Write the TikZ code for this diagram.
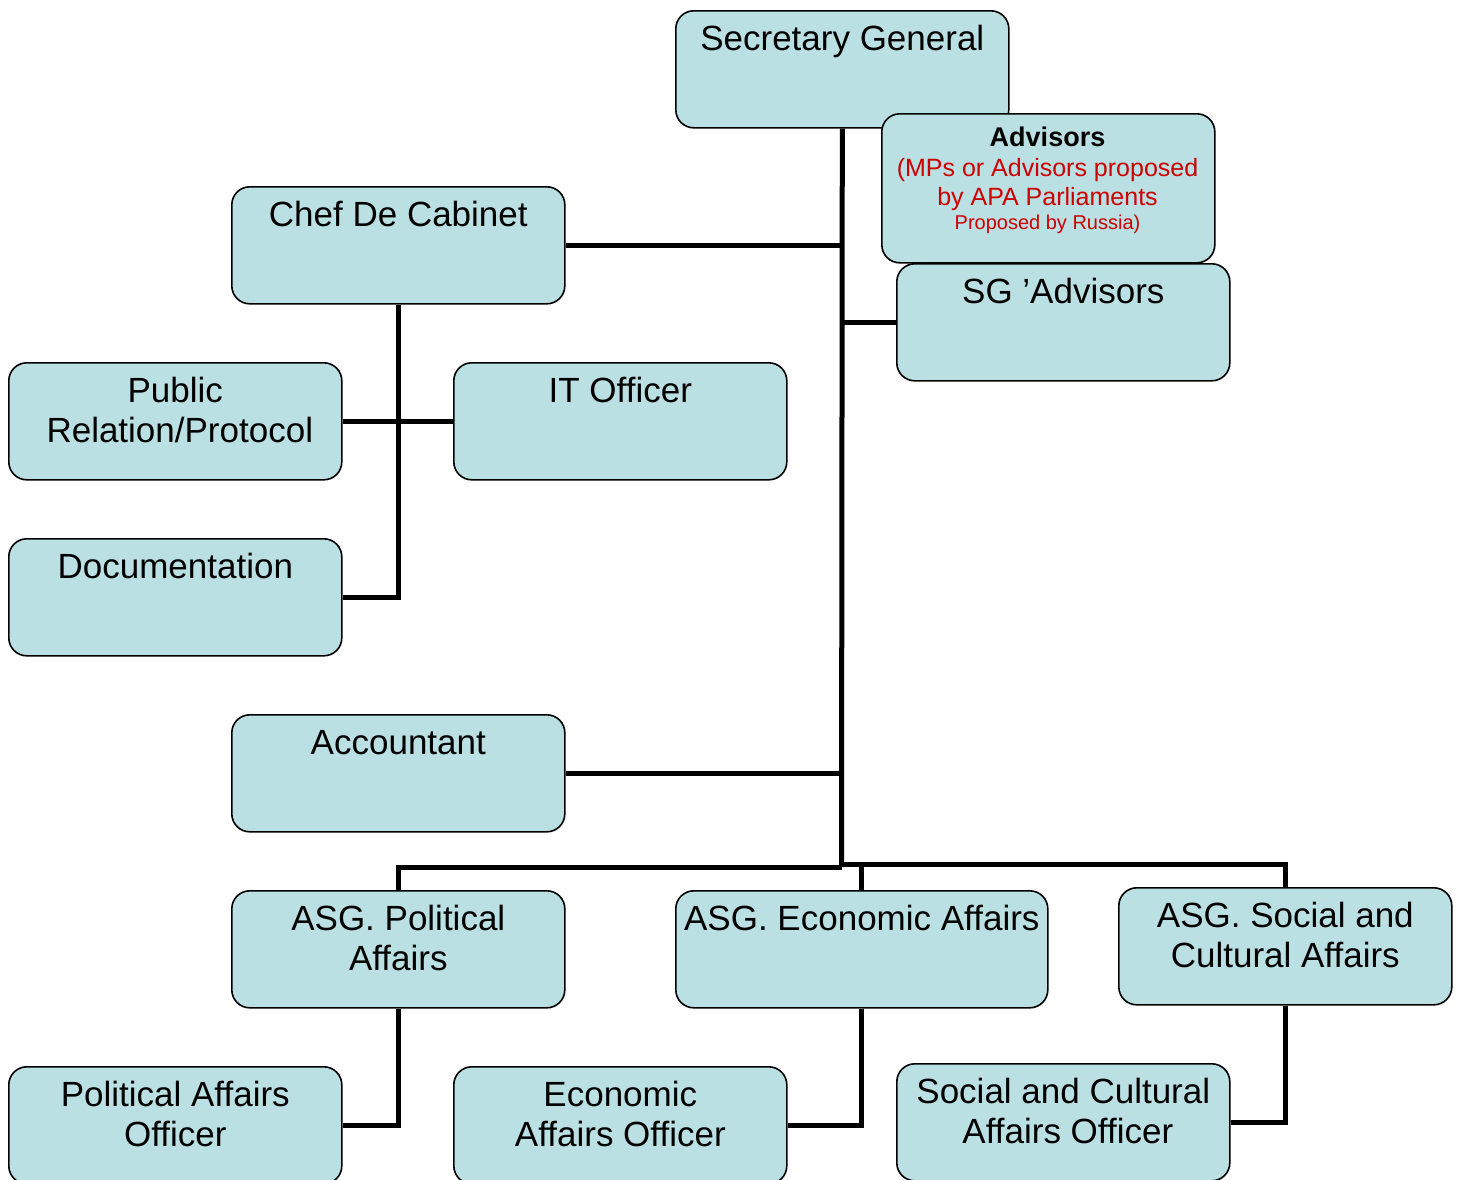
\documentclass[tikz,border=0pt]{standalone}
\usepackage{fontspec}
\setmainfont{Liberation Sans}
\definecolor{boxfill}{HTML}{BBE0E3}
\definecolor{advred}{HTML}{CC0000}
\newcommand\lstrut{\rule{0pt}{28pt}}
\begin{document}
\begin{tikzpicture}[x=1pt,y=-1pt,
  orgbox/.style={draw=black, line width=1.6pt, rounded corners=18pt, fill=boxfill,
    minimum width=333pt, minimum height=117pt, inner sep=0pt, anchor=north west},
  lbl/.style={anchor=north, inner sep=0pt, align=center, font=\fontsize{35}{40}\selectfont},
  link/.style={line width=5pt, line cap=butt}]
\useasboundingbox (0,0) rectangle (1458,1179);

% boxes
\node[orgbox] (sg) at (675,10) {};
\node[orgbox, minimum height=149pt] (adv) at (881,113) {};
\node[orgbox] (sgadv) at (896,263) {};
\node[orgbox] (chef) at (231,186) {};
\node[orgbox] (pr) at (8,362) {};
\node[orgbox] (it) at (453,362) {};
\node[orgbox] (doc) at (8,538) {};
\node[orgbox] (acc) at (231,714) {};
\node[orgbox] (asgp) at (231,890) {};
\node[orgbox, minimum width=372pt] (asge) at (675,890) {};
\node[orgbox] (asgs) at (1118,887) {};
\node[orgbox] (pao) at (8,1066) {};
\node[orgbox] (eao) at (453,1066) {};
\node[orgbox] (scao) at (896,1063) {};

% labels
\node[lbl] (sgt) at ([yshift=-12.5pt]sg.north) {\lstrut Secretary General};
\node[lbl] (sgadvt) at ([yshift=-12.5pt]sgadv.north) {\lstrut SG \textquoteright Advisors};
\node[lbl] (cheft) at ([yshift=-12.5pt]chef.north) {\lstrut Chef De Cabinet};
\node[lbl] (prt) at ([yshift=-12.5pt]pr.north) {\lstrut Public\\\hspace*{9pt}Relation/Protocol};
\node[lbl] (itt) at ([yshift=-12.5pt]it.north) {\lstrut IT Officer};
\node[lbl] (doct) at ([yshift=-12.5pt]doc.north) {\lstrut Documentation};
\node[lbl] (acct) at ([yshift=-12.5pt]acc.north) {\lstrut Accountant};
\node[lbl] (asgpt) at ([yshift=-12.5pt]asgp.north) {\lstrut ASG. Political\\Affairs};
\node[lbl] (asget) at ([yshift=-12.5pt]asge.north) {\lstrut ASG. Economic Affairs};
\node[lbl] (asgst) at ([yshift=-12.5pt]asgs.north) {\lstrut ASG. Social and\\Cultural Affairs};
\node[lbl] (paot) at ([yshift=-12.5pt]pao.north) {\lstrut Political Affairs\\Officer};
\node[lbl] (eaot) at ([yshift=-12.5pt]eao.north) {\lstrut Economic\\Affairs Officer};
\node[lbl] (scaot) at ([yshift=-12.5pt]scao.north) {\lstrut Social and Cultural\\\hspace*{9pt}Affairs Officer};

% advisors text (per line, base anchored)
\node[anchor=base, inner sep=0pt, font=\fontsize{27}{30}\selectfont\bfseries] (adv1) at (1047.5,146.5) {Advisors};
\node[anchor=base, inner sep=0pt, text=advred, font=\fontsize{25}{29}\selectfont] (adv2) at (1047.5,176) {(MPs or Advisors proposed};
\node[anchor=base, inner sep=0pt, text=advred, font=\fontsize{25}{29}\selectfont] (adv3) at (1047.5,205) {by APA Parliaments};
\node[anchor=base, inner sep=0pt, text=advred, font=\fontsize{20}{24}\selectfont] (adv4) at (1047.5,229) {Proposed by Russia)};

% connectors
\coordinate (tl) at (841.5,867);
\coordinate (tr) at (841.5,864);
\draw[link] (sg.south) -- (tl);
\draw[link] (chef.east) -- (chef.east -| sg.south);
\draw[link] (sgadv.west) -- (sgadv.west -| sg.south);
\draw[link] (acc.east) -- (acc.east -| sg.south);
\draw[link] (pr.east) -- (it.west);
\draw[link] (chef.south) |- (doc.east);
\draw[link] (tl) -| (asgp.north);
\draw[link] (tr) -| (asgs.north);
\draw[link] (asge.north) -- (asge.north |- tl);
\draw[link] (asgp.south) |- (pao.east);
\draw[link] (asge.south) |- (eao.east);
\draw[link] (asgs.south) |- (scao.east);
\end{tikzpicture}
\end{document}
